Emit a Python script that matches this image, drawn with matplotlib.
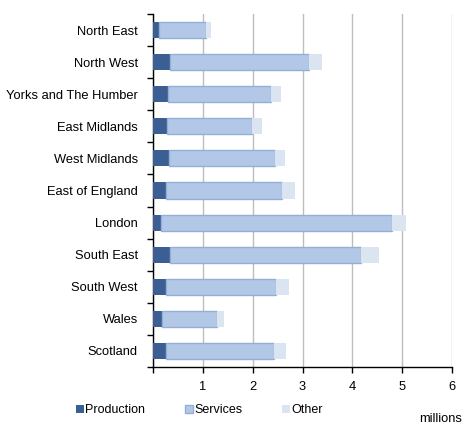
import matplotlib
matplotlib.use("Agg")
import matplotlib.pyplot as plt
import numpy as np

plt.rcParams['font.family'] = ['Liberation Sans', 'DejaVu Sans']

regions = ["North East", "North West", "Yorks and The Humber", "East Midlands",
           "West Midlands", "East of England", "London", "South East",
           "South West", "Wales", "Scotland"]
production = [0.13, 0.35, 0.31, 0.29, 0.33, 0.27, 0.16, 0.34, 0.27, 0.18, 0.27]
services = [0.94, 2.78, 2.06, 1.70, 2.12, 2.32, 4.63, 3.83, 2.20, 1.11, 2.16]
other = [0.10, 0.26, 0.20, 0.20, 0.20, 0.26, 0.28, 0.36, 0.26, 0.14, 0.24]

c_prod = "#3b5f93"
c_serv = "#b3c8e7"
c_serv_edge = "#94afd5"
c_other = "#dbe4f1"

fig = plt.figure(figsize=(4.72, 4.36), dpi=100)
ax = fig.add_axes([153 / 472, 1 - 367 / 436, 299 / 472, 353 / 436])

y = np.arange(len(regions))
prod = np.array(production)
serv = np.array(services)
h = 0.5
ax.barh(y, prod, height=h, color=c_prod, zorder=3, label="Production")
ax.barh(y, serv, left=prod, height=h, color=c_serv, edgecolor=c_serv_edge,
        linewidth=1, zorder=3, label="Services")
ax.barh(y, other, left=prod + serv, height=h, color=c_other, zorder=3, label="Other")

ax.set_xlim(0, 6)
ax.set_ylim(len(regions) - 0.5, -0.5)
ax.set_yticks(y)
ax.set_yticklabels(regions, fontsize=9.3)
ax.set_yticks(np.arange(-0.5, len(regions)), minor=True)
ax.tick_params(axis='y', which='major', length=0, pad=11)
ax.tick_params(axis='y', which='minor', length=4, width=1, direction='out')
ax.set_xticks(range(0, 7))
ax.set_xticklabels([""] + [str(i) for i in range(1, 7)], fontsize=9.3)
ax.tick_params(axis='x', length=4, width=1, direction='out', pad=6)

ax.grid(axis='x', color="#bebebe", linewidth=1, zorder=0)
for s in ["top", "right"]:
    ax.spines[s].set_visible(False)
ax.spines["left"].set_linewidth(1)
ax.spines["bottom"].set_linewidth(1)

fig.legend(loc="center left", bbox_to_anchor=(76 / 472, 1 - 410 / 436), ncol=3,
           frameon=False, fontsize=9, handlelength=0.6, handleheight=0.6,
           handletextpad=0.12, columnspacing=3.2, borderpad=0, borderaxespad=0)
fig.text(462 / 472, 1 - 419 / 436, "millions", fontsize=9.3, ha="right", va="center")

fig.savefig("out.png", dpi=100)
